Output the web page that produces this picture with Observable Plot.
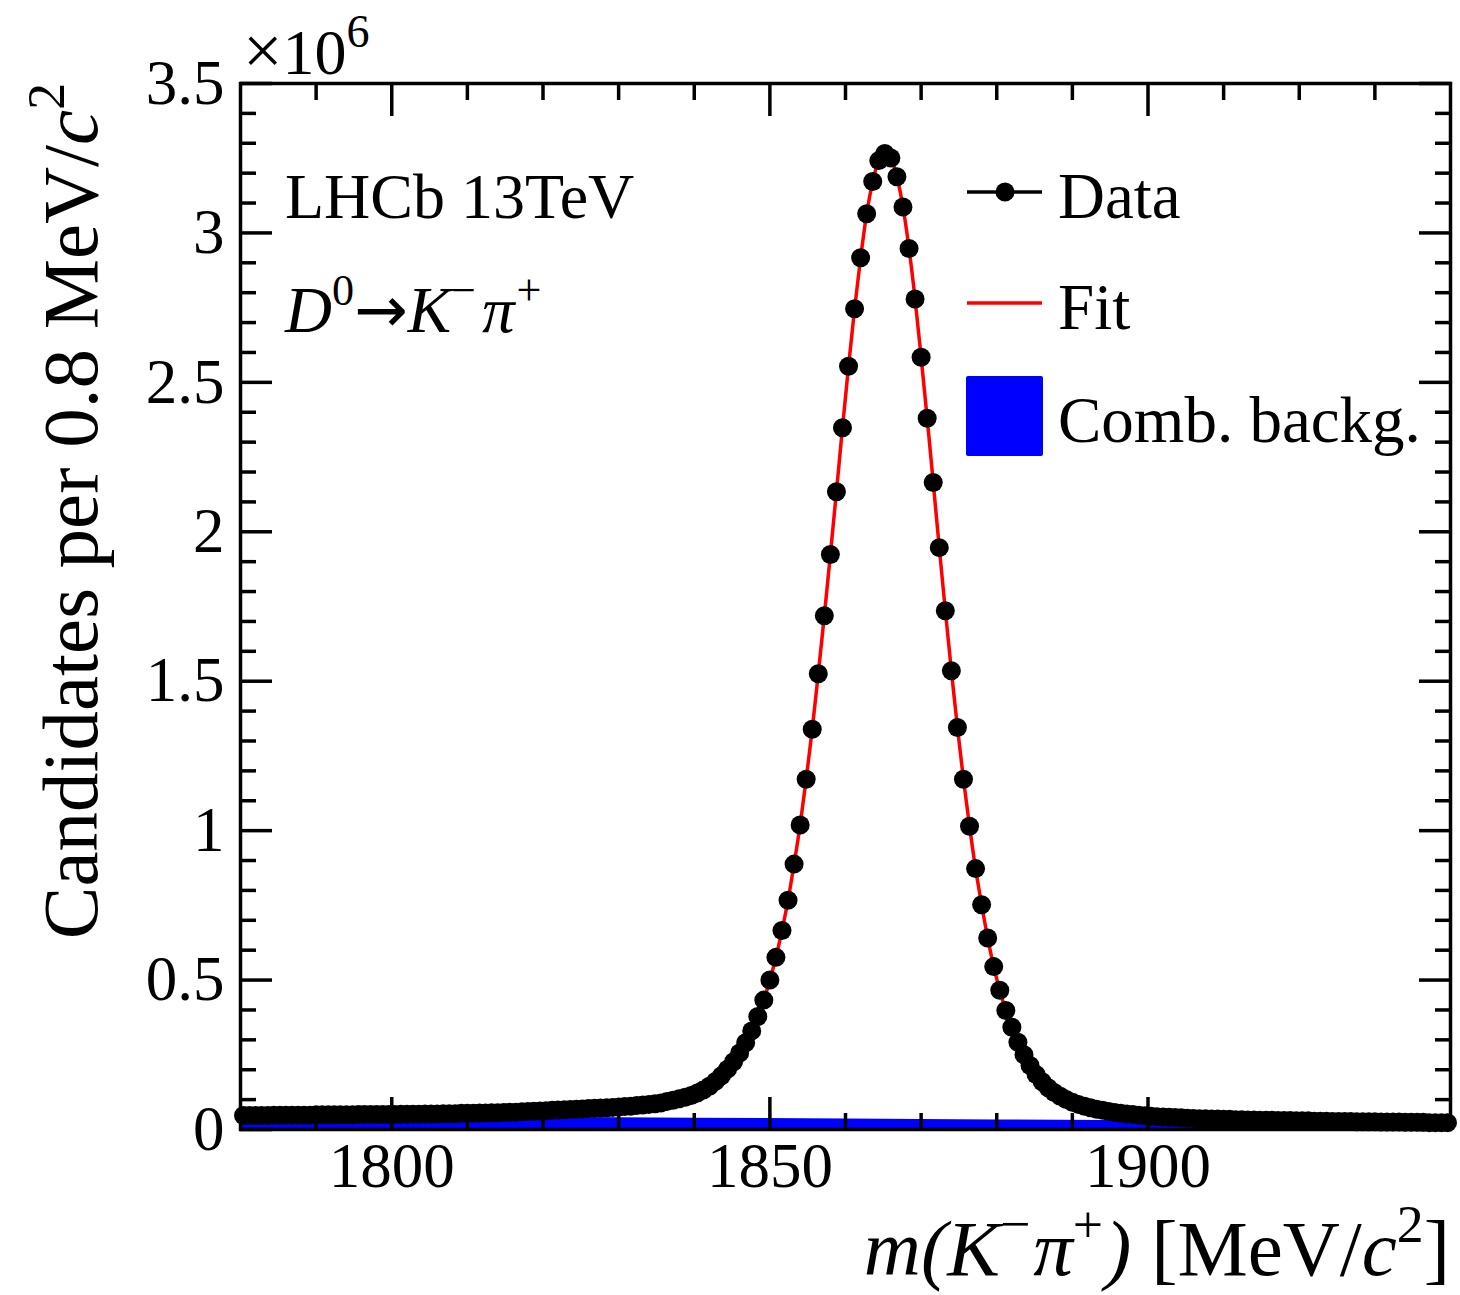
<!DOCTYPE html>
<html>
<head>
<meta charset="utf-8">
<script src="https://cdn.jsdelivr.net/npm/d3@7"></script>
<script src="https://cdn.jsdelivr.net/npm/@observablehq/plot@0.6"></script>
<style>
  html, body { margin: 0; padding: 0; background: #fff; }
  #chart svg { display: block; }
</style>
</head>
<body>
<div id="chart"></div>
<script>
// ---------- data (values in units of 10^6 candidates per 0.8 MeV/c^2) ----------
const binStart = 1780;   // MeV/c^2, lower edge of the first bin
const binWidth = 0.8;    // MeV/c^2
const counts = [
  0.047,0.047,0.047,0.047,0.047,0.048,0.048,0.048,0.048,0.048,
  0.048,0.048,0.049,0.049,0.049,0.049,0.049,0.049,0.049,0.050,
  0.050,0.050,0.050,0.050,0.050,0.050,0.051,0.051,0.051,0.051,
  0.052,0.052,0.052,0.053,0.053,0.053,0.054,0.054,0.054,0.055,
  0.055,0.056,0.056,0.057,0.058,0.058,0.059,0.060,0.061,0.062,
  0.063,0.064,0.065,0.066,0.067,0.068,0.069,0.070,0.071,0.072,
  0.073,0.074,0.075,0.077,0.078,0.080,0.082,0.084,0.086,0.089,
  0.094,0.098,0.103,0.108,0.114,0.122,0.132,0.145,0.161,0.180,
  0.202,0.227,0.256,0.290,
  0.330,0.378,0.433,0.500,0.576,0.666,0.767,0.888,1.019,1.172,
  1.339,1.525,1.719,1.924,2.134,2.348,2.554,2.746,2.917,3.064,
  3.172,3.242,3.266,3.251,3.188,3.087,2.948,2.779,2.584,2.380,
  2.165,1.947,1.736,1.535,1.345,1.172,1.015,0.873,0.752,0.641,
  0.545,0.466,0.398,0.342,0.292,0.250,0.214,0.184,0.160,0.140,
  0.124,0.111,0.100,0.091,0.084,0.078,0.073,0.068,0.064,0.060,
  0.057,0.054,0.052,0.050,0.048,0.046,0.044,0.043,0.042,0.041,
  0.040,0.039,0.038,0.037,0.036,0.036,0.035,0.035,0.034,0.034,
  0.033,0.033,0.032,0.032,0.031,0.031,0.031,0.030,0.030,0.030,
  0.029,0.029,0.029,0.028,0.028,0.028,0.027,0.027,0.027,0.027,
  0.026,0.026,0.026,0.026,0.025,0.025,0.025,0.025,0.024,0.024,
  0.024,0.024,0.023,0.023,0.023,0.023
];
// combinatorial background curve
const bgMass   = [1780, 1800, 1820, 1840, 1860, 1880, 1900, 1920, 1940];
const bgValues = [0.046, 0.044, 0.041, 0.038, 0.035, 0.032, 0.029, 0.026, 0.023];

// axis ticks
const xMajorTicks = [1800, 1850, 1900];
const xMinorTicks = [1790, 1810, 1820, 1830, 1840, 1860, 1870, 1880, 1890, 1910, 1920, 1930];
const yMajorTicks = [0, 0.5, 1, 1.5, 2, 2.5, 3, 3.5];
const yTickLabels = ["0", "0.5", "1", "1.5", "2", "2.5", "3", "3.5"];
const yMinorTicks = [0.1,0.2,0.3,0.4,0.6,0.7,0.8,0.9,1.1,1.2,1.3,1.4,1.6,1.7,1.8,1.9,
                     2.1,2.2,2.3,2.4,2.6,2.7,2.8,2.9,3.1,3.2,3.3,3.4];

// ---------- tables ----------
const data = counts.map((v, i) => ({m: binStart + binWidth * (i + 0.5), v}));
const bg = bgMass.map((m, i) => ({m, v: bgValues[i]}));

const FONT = "'Liberation Serif', 'Times New Roman', serif";
const MAJ = 32, MIN = 16, LW = 3.5;

const chart = Plot.plot({
  width: 1460,
  height: 1295,
  marginLeft: 240,
  marginRight: 10,
  marginTop: 83,
  marginBottom: 166,
  style: {fontFamily: FONT, background: "white", color: "black"},
  x: {domain: [1780, 1940]},
  y: {domain: [0, 3.5]},
  marks: [
    Plot.areaY(bg, {x: "m", y: "v", fill: "#0000ff", curve: "linear"}),
    Plot.line(data, {x: "m", y: "v", stroke: "#ff0000", strokeWidth: 3.5, curve: "monotone-x"}),
    Plot.dot(data, {x: "m", y: "v", r: 9.5, fill: "black", stroke: "none"}),
    // inward ticks on all four sides
    Plot.axisX(xMajorTicks, {anchor: "bottom", tickSize: -MAJ, strokeWidth: LW, tickFormat: () => "", label: null}),
    Plot.axisX(xMinorTicks, {anchor: "bottom", tickSize: -MIN, strokeWidth: LW, tickFormat: () => "", label: null}),
    Plot.axisX(xMajorTicks, {anchor: "top", tickSize: -MAJ, strokeWidth: LW, tickFormat: () => "", label: null}),
    Plot.axisX(xMinorTicks, {anchor: "top", tickSize: -MIN, strokeWidth: LW, tickFormat: () => "", label: null}),
    Plot.axisY(yMajorTicks, {anchor: "left", tickSize: -MAJ, strokeWidth: LW, tickFormat: () => "", label: null}),
    Plot.axisY(yMinorTicks, {anchor: "left", tickSize: -MIN, strokeWidth: LW, tickFormat: () => "", label: null}),
    Plot.axisY(yMajorTicks, {anchor: "right", tickSize: -MAJ, strokeWidth: LW, tickFormat: () => "", label: null}),
    Plot.axisY(yMinorTicks, {anchor: "right", tickSize: -MIN, strokeWidth: LW, tickFormat: () => "", label: null}),
    // tick labels
    Plot.axisX(xMajorTicks, {anchor: "bottom", tickSize: 0, tickPadding: 13, fontSize: 63, label: null, tickFormat: d => String(d)}),
    Plot.axisY(yMajorTicks, {anchor: "left", tickSize: 0, tickPadding: 16, fontSize: 63, label: null, tickFormat: (d, i) => yTickLabels[i]}),
    Plot.frame({stroke: "black", strokeWidth: LW})
  ]
});
document.getElementById("chart").appendChild(chart);

// ---------- rich text (titles, annotations, legend) ----------
const svg = d3.select(chart);
const g = svg.append("g").attr("font-family", FONT).attr("fill", "black");

function rich(parent, x, y, parts, size, anchor = "start", transform = null) {
  const t = parent.append("text")
    .attr("x", x).attr("y", y)
    .attr("font-size", size)
    .attr("text-anchor", anchor);
  if (transform) t.attr("transform", transform);
  let shifted = 0;
  for (const p of parts) {
    const s = t.append("tspan").text(p.t);
    if (p.it) s.attr("font-style", "italic");
    if (p.font) s.attr("font-family", p.font);
    if (p.size) s.attr("font-size", p.size);
    if (p.dx) s.attr("dx", p.dx);
    if (p.sup) {
      const d = -0.42 * size;
      s.attr("font-size", size * (p.scale || 0.68)).attr("dy", d - shifted);
      shifted = d;
    } else if (shifted !== 0) {
      s.attr("dy", -shifted);
      shifted = 0;
    }
  }
  return t;
}

// exponent
rich(g, 243, 74, [{t: "\u00d7", size: 70}, {t: "10"}, {t: "6", sup: true, scale: 0.72}], 64);

// y title
rich(g, 0, 0, [{t: "Candidates per 0.8 MeV/"}, {t: "c", it: true}, {t: "2", sup: true}], 79, "end",
     "translate(97,83) rotate(-90)");

// x title
rich(g, 1450, 1275, [
  {t: "m(K", it: true}, {t: "\u2212", sup: true}, {t: "\u03c0", it: true, dx: 3}, {t: "+", sup: true},
  {t: ")", it: true, dx: 2}, {t: " [MeV/"}, {t: "c", it: true}, {t: "2", sup: true}, {t: "]"}
], 79, "end");

// annotations
rich(g, 285, 218, [{t: "LHCb 13TeV"}], 64);
rich(g, 285, 332, [
  {t: "D", it: true}, {t: "0", sup: true}, {t: "\u2192", font: "'DejaVu Sans', sans-serif", size: 64},
  {t: "K", it: true}, {t: "\u2212", sup: true}, {t: "\u03c0", it: true, dx: 6}, {t: "+", sup: true, dx: 2}
], 65);

// legend
g.append("line").attr("x1", 967).attr("x2", 1042).attr("y1", 192).attr("y2", 192)
  .attr("stroke", "black").attr("stroke-width", 3.5);
g.append("circle").attr("cx", 1005).attr("cy", 192).attr("r", 9.5).attr("fill", "black");
rich(g, 1058, 218, [{t: "Data"}], 65);
g.append("line").attr("x1", 967).attr("x2", 1042).attr("y1", 303).attr("y2", 303)
  .attr("stroke", "#ff0000").attr("stroke-width", 3.5);
rich(g, 1058, 329, [{t: "Fit"}], 65);
g.append("rect").attr("x", 966).attr("y", 376).attr("width", 77).attr("height", 80)
  .attr("rx", 2).attr("fill", "#0000ff");
rich(g, 1058, 442, [{t: "Comb. backg."}], 65);
</script>
</body>
</html>
